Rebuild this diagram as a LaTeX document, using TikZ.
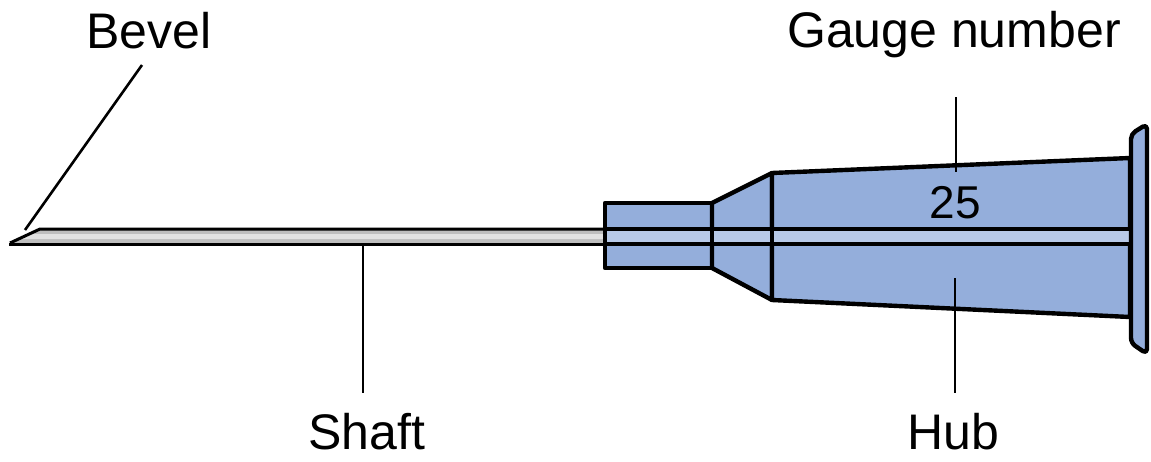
\documentclass[tikz,border=0pt]{standalone}
\usepackage{fontspec}
\setmainfont{Liberation Sans}
\definecolor{hubblue}{RGB}{148,174,219}
\definecolor{lumenblue}{RGB}{184,202,232}
\definecolor{steel}{RGB}{190,190,190}
\definecolor{steellight}{RGB}{226,226,226}
\begin{document}
\begin{tikzpicture}[x=1pt,y=-1pt,
  outline/.style={draw=black,line width=4.4pt,line join=round},
  thinline/.style={draw=black,line width=3pt},
  leader/.style={draw=black,line width=2.6pt},
  label/.style={font=\fontsize{50}{60}\selectfont,anchor=base,inner sep=0pt}]
\useasboundingbox (0,0) rectangle (1151,461);

% shaft (steel cannula) with bevelled tip
\fill[steel] (10,243) -- (40,229) -- (610,229) -- (610,244) -- (10,244) -- cycle;
\fill[steellight] (30,234) -- (610,234) -- (610,239) -- (20,239) -- cycle;
\draw[thinline,line join=round] (10,243) -- (40,229) -- (610,229);
\draw[thinline] (10,243) -- (10,244) -- (610,244);

% hub: collar, cone and body
\draw[outline,fill=hubblue] (605,203) rectangle (712,268);
\draw[outline,fill=hubblue] (712,203) -- (772,173) -- (772,300) -- (712,268) -- cycle;
\draw[outline,fill=hubblue] (772,173) -- (1130,158) -- (1130,317) -- (772,300) -- cycle;

% lumen seen through the hub
\fill[lumenblue] (605,229) rectangle (1130,244);
\draw[outline] (605,229) -- (1130,229);
\draw[outline] (605,244) -- (1130,244);
\draw[outline] (605,203) -- (605,268);
\draw[outline] (712,203) -- (712,268);
\draw[outline] (772,173) -- (772,300);

% flange at the back of the hub
\draw[outline,fill=hubblue,rounded corners=5pt]
  (1131,134) -- (1147,124) -- (1147,354) -- (1131,343) -- cycle;

% gauge number printed on the hub
\node[label,font=\fontsize{46}{55}\selectfont] (gauge-num) at (955,218) {25};

% labels
\node[label] (bevel) at (149,48) {Bevel};
\node[label] (gauge) at (954,47) {Gauge number};
\node[label] (shaft) at (367,449) {Shaft};
\node[label] (hub) at (953,449) {Hub};

% leader ends
\coordinate (bevel-top) at (142,65);
\coordinate (bevel-tip) at (25,230);
\coordinate (gauge-top) at (956,97);
\coordinate (gauge-end) at (956,172);
\coordinate (shaft-top) at (363,244);
\coordinate (shaft-bot) at (363,393);
\coordinate (hub-top) at (955,278);
\coordinate (hub-bot) at (955,393);

\draw[leader] (bevel-top) -- (bevel-tip);
\draw[leader] (gauge-top) -- (gauge-end);
\draw[leader] (shaft-top) -- (shaft-bot);
\draw[leader] (hub-top) -- (hub-bot);
\end{tikzpicture}
\end{document}
